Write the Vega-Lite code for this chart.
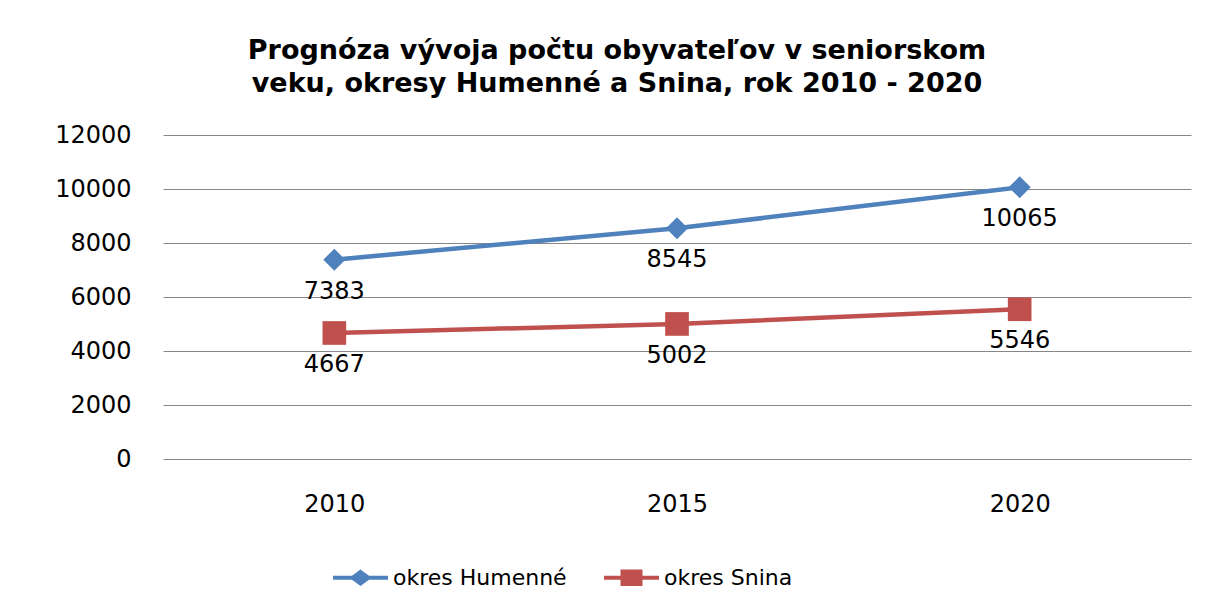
{
  "$schema": "https://vega.github.io/schema/vega-lite/v6.json",
  "width": 1028,
  "height": 324,
  "autosize": "none",
  "padding": {"left": 163, "top": 135, "right": 26, "bottom": 150},
  "background": "white",
  "title": {
    "text": ["Prognóza vývoja počtu obyvateľov v seniorskom", "veku, okresy Humenné a Snina, rok 2010 - 2020"],
    "font": "DejaVu Sans",
    "fontSize": 27,
    "fontWeight": "bold",
    "color": "#000000",
    "anchor": "middle",
    "frame": "group",
    "dx": -60,
    "offset": 25,
    "lineHeight": 33
  },
  "data": {
    "values": [
      {"year": "2010", "okres": "okres Humenné", "value": 7383},
      {"year": "2015", "okres": "okres Humenné", "value": 8545},
      {"year": "2020", "okres": "okres Humenné", "value": 10065},
      {"year": "2010", "okres": "okres Snina", "value": 4667},
      {"year": "2015", "okres": "okres Snina", "value": 5002},
      {"year": "2020", "okres": "okres Snina", "value": 5546}
    ]
  },
  "encoding": {
    "x": {
      "field": "year",
      "type": "ordinal",
      "scale": {"type": "point", "padding": 0.5},
      "axis": {
        "title": null,
        "labelAngle": 0,
        "ticks": false,
        "domain": false,
        "grid": false,
        "labelPadding": 33,
        "labelFont": "DejaVu Sans",
        "labelFontSize": 24,
        "labelColor": "#000000"
      }
    },
    "y": {
      "field": "value",
      "type": "quantitative",
      "scale": {"domain": [0, 12000], "nice": false},
      "axis": {
        "title": null,
        "values": [0, 2000, 4000, 6000, 8000, 10000, 12000],
        "format": "d",
        "grid": true,
        "gridColor": "#878787",
        "gridWidth": 1,
        "domain": false,
        "ticks": false,
        "labelPadding": 32,
        "labelFont": "DejaVu Sans",
        "labelFontSize": 24,
        "labelColor": "#000000"
      }
    },
    "color": {
      "field": "okres",
      "type": "nominal",
      "scale": {"domain": ["okres Humenné", "okres Snina"], "range": ["#4F81BD", "#C0504D"]},
      "legend": {
        "title": null,
        "orient": "none",
        "direction": "horizontal",
        "legendX": 170,
        "legendY": 415,
        "symbolSize": 3025,
        "labelOffset": 5,
        "labelLimit": 400,
        "columnPadding": 37,
        "labelFont": "DejaVu Sans",
        "labelFontSize": 22,
        "labelColor": "#000000",
        "encode": {
          "symbols": {
            "update": {
              "shape": {"signal": "datum.value === 'okres Humenné' ? 'M-1,-0.07L-0.31,-0.07L0,-0.3L0.31,-0.07L1,-0.07L1,0.07L0.31,0.07L0,0.3L-0.31,0.07L-1,0.07Z' : 'M-1,-0.07L-0.4,-0.07L-0.4,-0.3L0.4,-0.3L0.4,-0.07L1,-0.07L1,0.07L0.4,0.07L0.4,0.3L-0.4,0.3L-0.4,0.07L-1,0.07Z'"},
              "size": {"value": 3025},
              "fill": {"signal": "scale('color', datum.value)"},
              "fillOpacity": {"value": 1},
              "strokeWidth": {"value": 0}
            }
          }
        }
      }
    }
  },
  "layer": [
    {
      "mark": {"type": "line", "strokeWidth": 4.5}
    },
    {
      "transform": [{"filter": "datum.okres === 'okres Humenné'"}],
      "mark": {"type": "point", "filled": true, "opacity": 1, "shape": "diamond", "size": 484}
    },
    {
      "transform": [{"filter": "datum.okres === 'okres Snina'"}],
      "mark": {"type": "point", "filled": true, "opacity": 1, "shape": "square", "size": 560}
    },
    {
      "mark": {"type": "text", "dy": 32, "baseline": "middle", "font": "DejaVu Sans", "fontSize": 24, "color": "#000000"},
      "encoding": {
        "text": {"field": "value", "type": "quantitative", "format": "d"},
        "color": {"value": "#000000"}
      }
    }
  ],
  "config": {
    "view": {"stroke": null}
  }
}
